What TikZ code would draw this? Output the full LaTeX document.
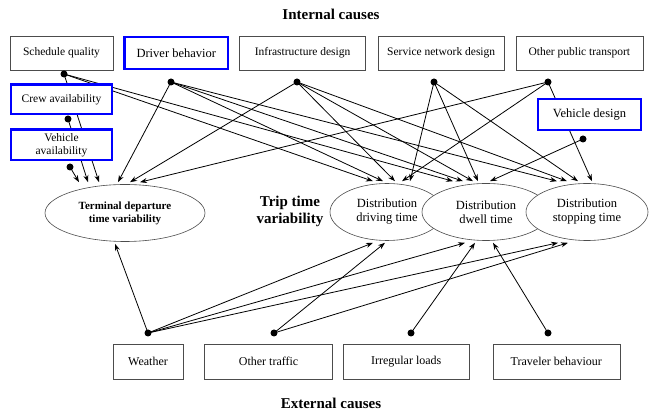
\documentclass[tikz,border=0pt]{standalone}
\usepackage{fontspec}
\setmainfont{Liberation Serif}
\usetikzlibrary{positioning,shapes.geometric,arrows.meta,calc,backgrounds}

\tikzset{
  cause/.style={draw=gray!60!black, line width=0.6pt, fill=white, minimum height=34pt,
    inner sep=1pt, align=center, font=\fontsize{11.5}{13}\selectfont},
  focus/.style={cause, draw=blue, line width=2.4pt, minimum height=30.6pt},
  effect/.style={ellipse, draw=gray!60!black, line width=0.6pt, fill=white,
    minimum height=57pt, inner sep=0pt, align=center, font=\fontsize{12.5}{14}\selectfont},
  bullet/.style={circle, fill=black, minimum size=7pt, inner sep=0pt},
  link/.style={-{Stealth[length=7pt,width=5pt]}, line width=0.8pt},
  heading/.style={font=\fontsize{15}{17}\selectfont\bfseries, align=center},
}

\begin{document}
\begin{tikzpicture}[x=1pt, y=1pt]
\useasboundingbox (0,0) rectangle (649,412);

% internal causes
\node[heading] (intl) at (331,398) {Internal causes};
\node[cause, minimum width=103pt] (sched) at (61.5,359) {Schedule quality};
\node[focus, minimum width=103.6pt, minimum height=31.6pt, font=\fontsize{12.5}{14}\selectfont,
  right=10pt of sched] (driver) {Driver behavior};
\node[cause, minimum width=126pt, right=10pt of driver] (infra) {Infrastructure design};
\node[cause, minimum width=126pt, right=12pt of infra] (service) {Service network design};
\node[cause, minimum width=127pt, right=11pt of service] (otherpt) {Other public transport};
\node[focus, minimum width=100.6pt, minimum height=29.6pt, below=13pt of sched] (crew) {Crew availability};
\node[focus, minimum width=100.6pt, below=13pt of crew] (vehav) {Vehicle\\availability};
\node[focus, minimum width=102.6pt, font=\fontsize{12.5}{14}\selectfont] (vehdes) at (589.5,297.5) {Vehicle design};

% external causes
\node[heading] (extl) at (331,9) {External causes};
\node[cause, minimum width=70pt, minimum height=35pt, font=\fontsize{12}{14}\selectfont] (weather) at (148,50.5) {Weather};
\node[cause, minimum width=128pt, minimum height=35pt, font=\fontsize{12}{14}\selectfont,
  right=21pt of weather] (traffic) {Other traffic};
\node[cause, minimum width=126pt, minimum height=35pt, font=\fontsize{12}{14}\selectfont,
  right=10pt of traffic] (loads) {Irregular loads};
\node[cause, minimum width=127pt, minimum height=35pt, font=\fontsize{12}{14}\selectfont,
  right=23pt of loads] (traveler) {Traveler behaviour};

% trip time variability
\node[effect, minimum width=160pt, font=\fontsize{11}{13}\selectfont\bfseries] (term) at (125,199)
  {Terminal departure\\time variability};
\node[heading] (trip) at (290,201) {Trip time\\variability};
\node[effect, minimum width=114pt] (drive) at (387,200) {Distribution\\driving time};
\node[effect, minimum width=128pt] (dwell) at (486,200) {Distribution\\dwell time};
\node[effect, minimum width=122pt] (stop) at (587,200) {Distribution\\stopping time};

% dots
\node[bullet] (sqd) at (64,338) {};
\node[bullet] (dbd) at (171,330) {};
\node[bullet] (ifd) at (297,330) {};
\node[bullet] (snd) at (434,330) {};
\node[bullet] (opd) at (548,330) {};
\node[bullet] (cad) at (68,293) {};
\node[bullet] (vad) at (70,245) {};
\node[bullet] (vdd) at (583,273) {};
\node[bullet] (wed) at (148,79) {};
\node[bullet] (otd) at (274,79) {};
\node[bullet] (ild) at (411,79) {};
\node[bullet] (tbd) at (548,79) {};

% arrow tips above and below the ellipses
\coordinate (t1) at ($(term.north)+(-46,2)$);
\coordinate (t2) at ($(term.north)+(-37,2)$);
\coordinate (t3) at ($(term.north)+(-26,2)$);
\coordinate (t4) at ($(term.north)+(-7,2)$);
\coordinate (t5) at ($(term.north)+(5,2)$);
\coordinate (t6) at ($(term.north)+(15,2)$);
\coordinate (d1) at ($(drive.north)+(-14,2)$);
\coordinate (d2) at ($(drive.north)+(-4,2)$);
\coordinate (d3) at ($(drive.north)+(8,2)$);
\coordinate (d4) at ($(drive.north)+(15,2)$);
\coordinate (d5) at ($(drive.north)+(23,2)$);
\coordinate (w1) at ($(dwell.north)+(-33,2)$);
\coordinate (w2) at ($(dwell.north)+(-23,2)$);
\coordinate (w3) at ($(dwell.north)+(-13,2)$);
\coordinate (w4) at ($(dwell.north)+(-8,2)$);
\coordinate (w5) at ($(dwell.north)+(4,2)$);
\coordinate (s1) at ($(stop.north)+(-30,2)$);
\coordinate (s2) at ($(stop.north)+(-20,2)$);
\coordinate (s3) at ($(stop.north)+(-9,2)$);
\coordinate (s4) at ($(stop.north)+(5,2)$);
\coordinate (u1) at ($(term.south)+(-10,-2)$);
\coordinate (u2) at ($(drive.south)+(-14,-2)$);
\coordinate (u3) at ($(drive.south)+(-2,-2)$);
\coordinate (u4) at ($(dwell.south)+(-21,-2)$);
\coordinate (u5) at ($(dwell.south)+(-11,-2)$);
\coordinate (u6) at ($(dwell.south)+(7,-2)$);
\coordinate (u7) at ($(stop.south)+(-29,-2)$);
\coordinate (u8) at ($(stop.south)+(-19,-2)$);

\begin{scope}[on background layer]
% internal
\draw[link] (vad.center) -- (t1);
\draw[link] (cad.center) -- (t2);
\draw[link] (sqd.center) -- (t3);
\draw[link] (sqd.center) -- (d1);
\draw[link] (sqd.center) -- (w1);
\draw[link] (dbd.center) -- (t4);
\draw[link] (dbd.center) -- (d2);
\draw[link] (dbd.center) -- (w2);
\draw[link] (dbd.center) -- (s1);
\draw[link] (ifd.center) -- (t5);
\draw[link] (ifd.center) -- (d3);
\draw[link] (ifd.center) -- (w3);
\draw[link] (ifd.center) -- (s2);
\draw[link] (snd.center) -- (d5);
\draw[link] (snd.center) -- (w4);
\draw[link] (snd.center) -- (s3);
\draw[link] (opd.center) -- (t6);
\draw[link] (opd.center) -- (d4);
\draw[link] (opd.center) -- (s4);
\draw[link] (vdd.center) -- (w5);
% external
\draw[link] (wed.center) -- (u1);
\draw[link] (wed.center) -- (u2);
\draw[link] (wed.center) -- (u4);
\draw[link] (wed.center) -- (u7);
\draw[link] (otd.center) -- (u3);
\draw[link] (otd.center) -- (u8);
\draw[link] (ild.center) -- (u5);
\draw[link] (tbd.center) -- (u6);
\end{scope}
\end{tikzpicture}
\end{document}
